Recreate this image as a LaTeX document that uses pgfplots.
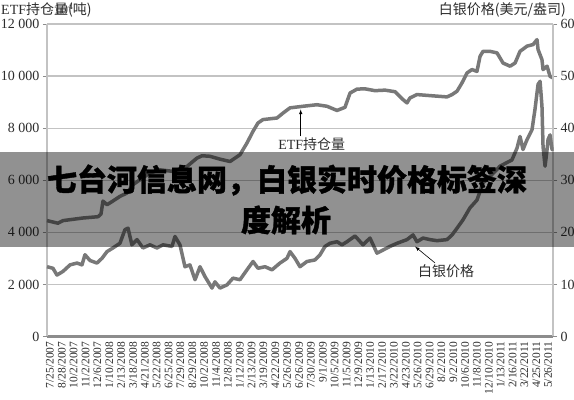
\documentclass[border=0pt]{standalone}
\usepackage{pgfplots}
\pgfplotsset{compat=1.18}
\usepackage{fontspec}
\setmainfont{Liberation Serif}
\newfontfamily\cjk{Noto Sans CJK SC}
\newfontfamily\cjkheavy{Noto Sans CJK SC}[BoldFeatures={FakeBold=1.2}]
\definecolor{linegray}{RGB}{120,120,120}
\definecolor{gridgray}{RGB}{195,195,195}
\definecolor{axisgray}{RGB}{140,140,140}
\definecolor{txtgray}{RGB}{45,45,45}
\pgfplotstableread{
x y
-0.25 4450
0.67 4350
1.10 4450
1.94 4500
2.78 4550
4.05 4600
4.30 4700
4.47 5200
4.81 5060
5.23 5180
5.90 5380
6.49 5510
7.00 5830
7.59 6020
8.43 6280
9.27 6400
10.37 6340
11.55 6530
12.39 6850
12.82 6940
13.49 6920
14.33 6810
15.18 6720
16.02 6980
16.61 7430
17.12 7880
17.54 8200
17.96 8330
19.14 8390
19.65 8580
20.24 8780
21.33 8840
22.51 8900
23.36 8840
24.20 8680
24.87 8800
25.30 9350
25.89 9500
26.56 9510
27.40 9440
28.25 9460
29.09 9400
29.76 9100
30.10 8970
30.35 9160
30.94 9290
32.04 9250
33.47 9200
33.90 9290
34.32 9420
34.74 9740
35.16 10120
35.58 10250
36.00 10180
36.26 10760
36.51 10950
37.10 10950
37.69 10890
38.20 10500
38.79 10380
39.21 10500
39.63 10950
40.22 11150
40.73 11210
41.06 11400
41.15 11020
41.48 10630
41.57 10250
41.91 10380
42.16 9990
42.41 9930
}\etfdata
\pgfplotstableread{
x y
-0.25 13.4
0.25 13.1
0.59 11.8
1.10 12.5
1.69 13.75
2.28 14.1
2.70 13.75
2.95 15.7
3.37 14.6
3.96 14.1
4.38 15.0
4.81 16.3
5.31 17.0
5.90 17.9
6.32 20.5
6.58 20.8
6.91 17.6
7.34 18.6
7.84 17.0
8.43 17.6
9.02 17.0
9.53 17.6
10.29 17.3
10.54 19.2
10.96 17.6
11.38 13.4
11.80 13.75
12.23 10.9
12.65 13.4
13.07 11.5
13.66 9.3
13.91 10.5
14.33 9.3
14.92 9.9
15.43 11.2
16.02 10.9
16.61 12.8
17.12 14.4
17.54 13.1
18.13 13.4
18.72 12.8
19.39 14.1
19.98 15.0
20.24 16.3
20.66 15.0
21.08 13.4
21.67 14.4
22.34 14.7
22.77 15.7
23.19 17.3
23.61 17.9
24.20 18.2
24.62 17.6
25.04 18.2
25.72 19.3
26.39 17.6
26.98 18.9
27.57 16.0
28.08 16.6
28.67 17.3
29.26 17.9
30.10 18.6
30.61 19.5
30.94 18.2
31.45 18.9
32.04 18.6
32.63 18.4
33.47 18.6
33.90 19.5
34.32 20.8
34.82 22.4
35.41 24.7
36.00 26.2
36.51 29.5
37.10 30.7
37.94 32.7
38.95 33.9
39.38 36.2
39.63 38.4
39.88 35.9
40.22 37.8
40.64 39.7
40.89 43.6
41.15 48.4
41.32 49.0
41.48 44.2
41.57 36.5
41.74 32.7
41.91 35.9
41.99 37.8
42.16 38.7
42.33 35.9
42.41 36.0
}\silverdata
\begin{document}
\begin{tikzpicture}
\fill[white] (0,0) rectangle (574bp,400bp);
\pgfplotsset{
  common/.style={
    at={(47bp,63.5bp)}, anchor=south west,
    scale only axis, width=506bp, height=312.5bp,
    xmin=-0.25, xmax=42.41,
    clip=false,
    tick style={axisgray, line width=0.8bp},
    major tick length=4bp,
    tick align=outside,
    yticklabel style={font=\fontsize{14bp}{16bp}\selectfont, text=txtgray},
  }
}
\begin{axis}[common,
  ymin=0, ymax=12000,
  axis x line*=bottom, axis y line*=left,
  x axis line style={axisgray, line width=3bp, -},
  y axis line style={gridgray, line width=1.2bp, -},
  ytick={0,2000,4000,6000,8000,10000,12000},
  yticklabels={0,2 000,4 000,6 000,8 000,10 000,12 000},
  ymajorgrids, grid style={gridgray, line width=1.2bp},
  xtick={0,...,42},
  xticklabels={7/25/2007,8/28/2007,10/2/2007,11/2/2007,12/6/2007,1/10/2008,2/13/2008,3/18/2008,4/21/2008,5/22/2008,6/25/2008,7/29/2008,8/29/2008,10/2/2008,11/4/2008,12/8/2008,1/12/2009,2/13/2009,3/19/2009,4/22/2009,5/26/2009,6/26/2009,7/30/2009,9/1/2009,10/5/2009,11/5/2009,12/9/2009,1/13/2010,2/17/2010,3/22/2010,4/23/2010,5/26/2010,6/29/2010,8/2/2010,9/2/2010,10/6/2010,11/8/2010,12/10/2010,1/13/2011,2/16/2011,3/22/2011,4/25/2011,5/26/2011},
  x tick style={draw=none},
  xticklabel style={rotate=90, anchor=east, font=\fontsize{11.5bp}{12bp}\selectfont, text=txtgray, inner sep=1bp},
]
\addplot[linegray, line width=3.5bp, line join=round] table {\etfdata};
\draw[-latex, black, line width=0.6bp] (axis cs:21.14,7685) -- (axis cs:21.14,8717);
\node[font=\fontsize{14bp}{16bp}\selectfont, text=txtgray] at (axis cs:22.07,7400) {ETF{\cjk 持仓量}};
\end{axis}
\begin{axis}[common,
  ymin=0, ymax=60,
  axis x line=none, axis y line*=right,
  y axis line style={gridgray, line width=1.2bp, -},
  ytick={0,10,20,30,40,50,60},
  yticklabels={0,10,20,30,40,50,60},
]
\addplot[linegray, line width=3.5bp, line join=round] table {\silverdata};
\draw[-latex, black, line width=0.6bp] (axis cs:32.46,14.13) -- (axis cs:30.78,17.27);
\node[font=\cjk\fontsize{14bp}{16bp}\selectfont, text=txtgray] at (axis cs:33.39,12.46) {白银价格};
\end{axis}
\node[anchor=west, font=\fontsize{14bp}{16bp}\selectfont, text=txtgray, inner sep=0pt] at (1bp,390bp) {ETF{\cjk 持仓量(吨)}};
\node[anchor=east, font=\cjk\fontsize{14bp}{16bp}\selectfont, text=txtgray, inner sep=0pt] at (566bp,390bp) {白银价格(美元/盎司)};
\fill[black, opacity=0.43] (0bp,152.5bp) rectangle (574bp,248bp);
\node[font=\cjkheavy\bfseries\fontsize{30bp}{32bp}\selectfont, inner sep=0pt] at (287bp,220bp) {七台河信息网，白银实时价格标签深};
\node[font=\cjkheavy\bfseries\fontsize{30bp}{32bp}\selectfont, inner sep=0pt] at (286bp,180bp) {度解析};
\pgfresetboundingbox
\path[use as bounding box] (0,0) rectangle (574bp,400bp);
\end{tikzpicture}
\end{document}
